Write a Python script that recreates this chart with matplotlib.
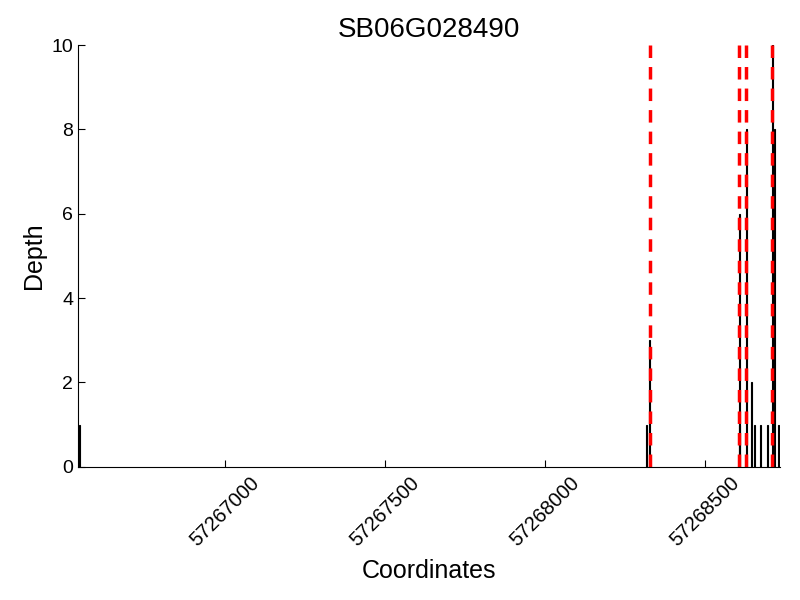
import matplotlib
matplotlib.use("Agg")
import matplotlib.pyplot as plt

title = "SB06G028490"
positions = [57266547, 57268320, 57268327, 57268608, 57268610, 57268631,
             57268647, 57268656, 57268675, 57268697, 57268712, 57268719, 57268731]
depths = [1, 1, 3, 6, 1, 8, 2, 1, 1, 1, 10, 8, 1]
snps = [57268328, 57268609, 57268631, 57268712]
xticks = [57267000, 57267500, 57268000, 57268500]
yticks = [0, 2, 4, 6, 8, 10]

plt.rcParams['font.family'] = ['Liberation Sans', 'DejaVu Sans']
fig = plt.figure(figsize=(8, 6), dpi=100)
ax = fig.add_axes([0.0975, 0.222, 0.8775, 0.703])
ax.bar(positions, depths, width=3, color='black', edgecolor='black', linewidth=0.8, align='center')
for s in snps:
    ax.plot([s, s], [10, 0], color='red', linestyle='--', linewidth=2.5,
            dashes=(3.6, 2.6), clip_on=False)
ax.set_xlim(57266541, 57268736)
ax.set_ylim(0, 10)
ax.set_xticks(xticks)
ax.set_xticklabels([str(t) for t in xticks], rotation=45, fontsize=14.5)
ax.set_yticks(yticks)
ax.set_yticklabels([str(t) for t in yticks], fontsize=14)
ax.tick_params(direction='in', length=5, top=False, right=False)
ax.tick_params(axis='x', pad=5)
ax.spines['top'].set_visible(False)
ax.spines['right'].set_visible(False)
ax.set_xlabel("Coordinates", fontsize=18, labelpad=6)
ax.set_ylabel("Depth", fontsize=18)
ax.set_title(title, fontsize=20)
fig.savefig("out.png", dpi=100)
